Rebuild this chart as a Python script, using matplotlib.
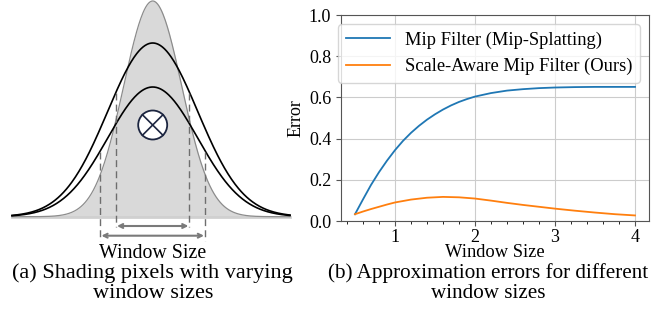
import numpy as np
import matplotlib
matplotlib.use('Agg')
import matplotlib.pyplot as plt
from matplotlib.ticker import AutoMinorLocator
from matplotlib.patches import Circle

plt.rcParams['font.family'] = ['Liberation Serif', 'DejaVu Serif']

# right panel data
mip_x = [0.5, 0.6, 0.7, 0.8, 0.9, 1.0, 1.1, 1.2, 1.3, 1.4, 1.5, 1.6, 1.7, 1.8, 1.9, 2.0,
         2.2, 2.4, 2.6, 2.8, 3.0, 3.25, 3.5, 4.0]
mip_err = [0.033, 0.105, 0.175, 0.237, 0.293, 0.344, 0.389, 0.428, 0.462, 0.492, 0.518, 0.541,
           0.561, 0.578, 0.592, 0.604, 0.621, 0.633, 0.640, 0.645, 0.648, 0.650, 0.651, 0.651]
ours_x = [0.5, 0.6, 0.7, 0.8, 0.9, 1.0, 1.2, 1.4, 1.6, 1.8, 2.0, 2.2, 2.4, 2.6, 2.8, 3.0,
          3.25, 3.5, 3.75, 4.0]
ours_err = [0.033, 0.046, 0.058, 0.069, 0.080, 0.090, 0.104, 0.113, 0.117, 0.115, 0.109, 0.099,
            0.088, 0.078, 0.069, 0.060, 0.050, 0.041, 0.033, 0.027]
series_labels = ['Mip Filter (Mip-Splatting)', 'Scale-Aware Mip Filter (Ours)']

# left panel schematic (pixel units, y down)
center_x = 152.7
base_y = 216.7
pixel_sigma, pixel_height = 29.0, 215.7
filter_sigma = [45.0, 45.0]
filter_height = [173.7, 129.7]
window_half = [36.7, 52.3]
window_top = [93.0, 152.0]
window_bottom = [227.0, 241.0]
arrow_y = [226.0, 235.7]

fig = plt.figure(figsize=(6.65, 3.24), dpi=100)

# ---- (a) schematic ----
axl = fig.add_axes([0, 0, 300 / 665, 1])
axl.set_xlim(0, 300)
axl.set_ylim(324, 0)
axl.axis('off')

xs = np.linspace(12, 290, 400)
g = base_y - pixel_height * np.exp(-(xs - center_x) ** 2 / (2 * pixel_sigma ** 2))
axl.fill_between(xs, base_y, g, color='#d9d9d9', lw=0, zorder=1)
axl.plot(xs, g, color='#8c8c8c', lw=0.9, zorder=2)
axl.plot([12, 290], [base_y, base_y], color='#d0d0d0', lw=2, zorder=1)
for s, h in zip(filter_sigma, filter_height):
    axl.plot(xs, base_y - h * np.exp(-(xs - center_x) ** 2 / (2 * s ** 2)),
             color='black', lw=1.2, zorder=3)

for hw, top, bot, ay in zip(window_half, window_top, window_bottom, arrow_y):
    for sx in (-1, 1):
        axl.plot([center_x + sx * hw] * 2, [top, bot], color='#6e6e6e', lw=1.0,
                 ls=(0, (5, 3)), zorder=4)
    axl.annotate('', xy=(center_x - hw + 1, ay), xytext=(center_x + hw - 1, ay),
                 arrowprops=dict(arrowstyle='<->', color='#7a7a7a', lw=1.5,
                                 shrinkA=0, shrinkB=0, mutation_scale=7),
                 zorder=4)

cy, r = 125.0, 14.5
axl.add_patch(Circle((center_x, cy), r, facecolor='white', edgecolor='#1c2540', lw=1.3, zorder=5))
d = r / np.sqrt(2)
axl.plot([center_x - d, center_x + d], [cy - d, cy + d], color='#1c2540', lw=1.2, zorder=6)
axl.plot([center_x - d, center_x + d], [cy + d, cy - d], color='#1c2540', lw=1.2, zorder=6)

axl.text(center_x, 253, 'Window Size', ha='center', va='center', fontsize=14.3)
fig.text(center_x / 665, 1 - 273.5 / 324, '(a) Shading pixels with varying',
         ha='center', va='center', fontsize=16)
fig.text(center_x / 665, 1 - 294 / 324, 'window sizes', ha='center', va='center', fontsize=16)

# ---- (b) error plot ----
ax = fig.add_axes([341 / 665, 103 / 324, 308 / 665, 206 / 324])
ax.plot(mip_x, mip_err, color='#1f77b4', lw=1.3, label=series_labels[0])
ax.plot(ours_x, ours_err, color='#ff7f0e', lw=1.3, label=series_labels[1])
ax.set_ylim(0, 1.0)
ax.set_xticks([1, 2, 3, 4])
ax.set_yticks([0.0, 0.2, 0.4, 0.6, 0.8, 1.0])
ax.xaxis.set_minor_locator(AutoMinorLocator(5))
ax.grid(True, color='#cccccc', lw=0.8)
ax.set_axisbelow(True)
for sp in ax.spines.values():
    sp.set_color('#555555')
ax.tick_params(labelsize=13, colors='#555555', labelcolor='black')
ax.tick_params(axis='x', pad=2)
ax.set_xlabel('Window Size', fontsize=13.3, labelpad=-1)
ax.set_ylabel('Error', fontsize=13, labelpad=3)
ax.legend(loc='upper right', fontsize=13.3, handlelength=2.4, borderaxespad=0.5)

fig.text(488 / 665, 1 - 273.5 / 324, '(b) Approximation errors for different',
         ha='center', va='center', fontsize=15.2)
fig.text(488 / 665, 1 - 294 / 324, 'window sizes', ha='center', va='center', fontsize=15.2)

fig.savefig('out.png', dpi=100)
